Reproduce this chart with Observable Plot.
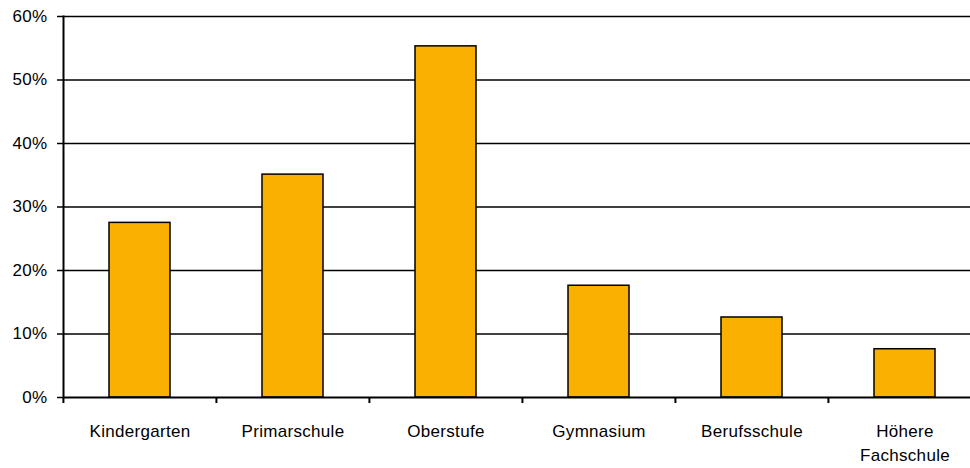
<!DOCTYPE html>
<html>
<head>
<meta charset="utf-8">
<script src="https://cdn.jsdelivr.net/npm/d3@7"></script>
<script src="https://cdn.jsdelivr.net/npm/@observablehq/plot@0.6"></script>
<style>
  html, body { margin: 0; padding: 0; background: #fff; }
  #chart { width: 970px; height: 468px; overflow: hidden; }
  #chart svg text { letter-spacing: 0.3px; }
</style>
</head>
<body>
<div id="chart"></div>
<script>
const categories = ["Kindergarten", "Primarschule", "Oberstufe", "Gymnasium", "Berufsschule", "Höhere\nFachschule"];
const values = [27.5, 35.1, 55.3, 17.6, 12.6, 7.6];
const yTicks = [0, 10, 20, 30, 40, 50, 60];

const data = categories.map((c, i) => ({category: c, value: values[i]}));

const xLeft = 63, xRight = 982;
const step = (xRight - xLeft) / categories.length;

const chart = Plot.plot({
  width: 970,
  height: 468,
  marginLeft: 63,
  marginRight: 0,
  marginTop: 16,
  marginBottom: 71,
  style: {fontFamily: "'Liberation Sans', Arial, sans-serif", fontSize: "17px", background: "#fff", color: "#000", overflow: "hidden"},
  x: {domain: categories, range: [xLeft, xRight], paddingInner: 0.6, paddingOuter: 0.3, label: null},
  y: {domain: [0, 60], label: null},
  marks: [
    Plot.ruleY(yTicks.filter(d => d > 0), {stroke: "#000", strokeWidth: 1.5}),
    Plot.barY(data, {x: "category", y: "value", fill: "#F9B000", stroke: "#000", strokeWidth: 1.5}),
    Plot.ruleY([0], {stroke: "#000", strokeWidth: 2}),
    Plot.frame({anchor: "left", stroke: "#000", strokeWidth: 2}),
    Plot.ruleX(categories, {x: d => d, y1: 0, y2: -0.95, dx: -step / 2, stroke: "#000", strokeWidth: 2}),
    Plot.axisY({ticks: yTicks, tickFormat: d => d + "%", tickSize: 6, tickPadding: 10, stroke: "#000", strokeWidth: 1.5, strokeOpacity: 1, fill: "#000", fontSize: 17, label: null}),
    Plot.axisX({tickSize: 0, tickPadding: 23, fill: "#000", fontSize: 17, lineHeight: 1.4, label: null})
  ]
});
document.getElementById("chart").appendChild(chart);
</script>
</body>
</html>
